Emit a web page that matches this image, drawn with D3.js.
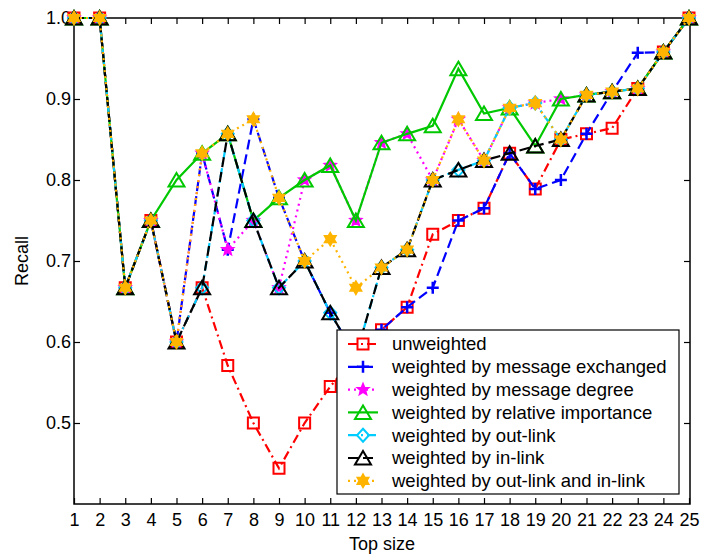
<!DOCTYPE html>
<html>
<head>
<meta charset="utf-8">
<script src="https://cdn.jsdelivr.net/npm/d3@7"></script>
<style>
  html, body { margin: 0; padding: 0; background: #fff; }
  svg { display: block; font-family: "Liberation Sans", Arial, Helvetica, sans-serif; }
</style>
</head>
<body>
<svg id="chart" width="701" height="556"></svg>
<script>
// Recall at each top-size, one array per weighting scheme
const topSizes = d3.range(1, 26);
const unweighted       = [1, 1, 0.667, 0.75, 0.6, 0.667, 0.571, 0.5, 0.444, 0.5, 0.545, 0.583, 0.615, 0.643, 0.733, 0.75, 0.765, 0.833, 0.789, 0.85, 0.857, 0.864, 0.913, 0.958, 1];
const msgExchanged     = [1, 1, 0.667, 0.75, 0.6, 0.833, 0.714, 0.875, 0.778, 0.7, 0.636, 0.583, 0.615, 0.643, 0.667, 0.75, 0.765, 0.833, 0.789, 0.8, 0.857, 0.909, 0.957, 0.958, 1];
const msgDegree        = [1, 1, 0.667, 0.75, 0.6, 0.833, 0.714, 0.75, 0.667, 0.8, 0.818, 0.75, 0.846, 0.857, 0.8, 0.875, 0.824, 0.889, 0.895, 0.9, 0.905, 0.909, 0.913, 0.958, 1];
const relImportance    = [1, 1, 0.667, 0.75, 0.8, 0.833, 0.857, 0.75, 0.778, 0.8, 0.818, 0.75, 0.846, 0.857, 0.867, 0.9375, 0.882, 0.889, 0.842, 0.9, 0.905, 0.909, 0.913, 0.958, 1];
const outLink          = [1, 1, 0.667, 0.75, 0.6, 0.667, 0.857, 0.75, 0.667, 0.7, 0.636, 0.583, 0.692, 0.714, 0.8, 0.8125, 0.824, 0.889, 0.895, 0.85, 0.905, 0.909, 0.913, 0.958, 1];
const inLink           = [1, 1, 0.667, 0.75, 0.6, 0.667, 0.857, 0.75, 0.667, 0.7, 0.636, 0.583, 0.692, 0.714, 0.8, 0.8125, 0.824, 0.833, 0.842, 0.85, 0.905, 0.909, 0.913, 0.958, 1];
const outInLink        = [1, 1, 0.667, 0.75, 0.6, 0.833, 0.857, 0.875, 0.778, 0.7, 0.727, 0.667, 0.692, 0.714, 0.8, 0.875, 0.824, 0.889, 0.895, 0.85, 0.905, 0.909, 0.913, 0.958, 1];

const seriesNames = [
  "unweighted",
  "weighted by message exchanged",
  "weighted by message degree",
  "weighted by relative importance",
  "weighted by out-link",
  "weighted by in-link",
  "weighted by out-link and in-link"
];
const yTickValues = [0.5, 0.6, 0.7, 0.8, 0.9, 1.0];

const seriesValues = [unweighted, msgExchanged, msgDegree, relImportance, outLink, inLink, outInLink];
const styles = [
  { color: "#ff0000", dash: "9,4,2,4", marker: "square" },
  { color: "#0000ff", dash: "10,5",    marker: "plus" },
  { color: "#ff00ff", dash: "2,4",     marker: "pentagram" },
  { color: "#00c800", dash: null,      marker: "triangle" },
  { color: "#00ccff", dash: "9,4,2,4", marker: "diamond" },
  { color: "#000000", dash: "10,5",    marker: "triangle" },
  { color: "#ffb400", dash: "2,4",     marker: "hexagram" }
];

const svg = d3.select("#chart");
const plotLeft = 74, plotRight = 690, plotTop = 18, plotBottom = 504;
const fontSize = "18px";

const x = d3.scaleLinear().domain([1, 25]).range([plotLeft, 689]);
const y = d3.scaleLinear().domain([0.4, 1.0]).range([plotBottom, plotTop]);

// Marker path generators, centred on the origin
function starPath(points, rOuter, rInner) {
  const p = [];
  for (let i = 0; i < points * 2; i++) {
    const r = i % 2 === 0 ? rOuter : rInner;
    const a = -Math.PI / 2 + i * Math.PI / points;
    p.push([r * Math.cos(a), r * Math.sin(a)]);
  }
  return "M" + p.map(d => d.join(",")).join("L") + "Z";
}
function markerPath(type) {
  switch (type) {
    case "square":   return "M-5.5,-5.5H5.5V5.5H-5.5Z";
    case "plus":     return "M-6,0H6M0,-6V6";
    case "diamond":  return "M0,-6.5L6,0L0,6.5L-6,0Z";
    case "triangle": return "M0,-7L8,6.5H-8Z";
    case "pentagram":return starPath(5, 5.5, 2.4);
    case "hexagram": return starPath(6, 6.2, 3.6);
  }
}
function drawMarker(g, type, color, cx, cy) {
  const filled = type === "pentagram" || type === "hexagram";
  g.append("path")
    .attr("d", markerPath(type))
    .attr("transform", `translate(${cx},${cy})`)
    .attr("fill", filled ? color : "none")
    .attr("stroke", color)
    .attr("stroke-width", type === "plus" ? 2.5 : 2);
}

// Axes box and ticks
const axes = svg.append("g");
axes.append("rect")
  .attr("x", plotLeft).attr("y", plotTop)
  .attr("width", plotRight - plotLeft).attr("height", plotBottom - plotTop)
  .attr("fill", "none").attr("stroke", "#000").attr("stroke-width", 1.5);

const xAxisB = d3.axisBottom(x).tickValues(topSizes).tickSize(-6).tickPadding(9).tickFormat(d3.format("d"));
const xAxisT = d3.axisTop(x).tickValues(topSizes).tickSize(-6).tickFormat("");
const yAxisL = d3.axisLeft(y).tickValues(yTickValues).tickSize(-6).tickPadding(3).tickFormat(d3.format(".1f"));
const yAxisR = d3.axisRight(y).tickValues(yTickValues).tickSize(-6).tickFormat("");

function styleAxis(g) {
  g.select(".domain").remove();
  g.selectAll(".tick line").attr("stroke", "#000").attr("stroke-width", 1.2);
  g.selectAll(".tick text").attr("fill", "#000").style("font-size", fontSize)
    .style("font-family", '"Liberation Sans", Arial, sans-serif');
}
axes.append("g").attr("transform", `translate(0,${plotBottom})`).call(xAxisB).call(styleAxis);
axes.append("g").attr("transform", `translate(0,${plotTop})`).call(xAxisT).call(styleAxis);
axes.append("g").attr("transform", `translate(${plotLeft},0)`).call(yAxisL).call(styleAxis);
axes.append("g").attr("transform", `translate(${plotRight},0)`).call(yAxisR).call(styleAxis);

// Axis titles
svg.append("text")
  .attr("x", (plotLeft + plotRight) / 2).attr("y", 550)
  .attr("text-anchor", "middle").style("font-size", fontSize).text("Top size");
svg.append("text")
  .attr("transform", `translate(28,${(plotTop + plotBottom) / 2}) rotate(-90)`)
  .attr("text-anchor", "middle").style("font-size", fontSize).text("Recall");

// Series lines with markers
const line = d3.line().x((d, i) => x(topSizes[i])).y(d => y(d));
const plot = svg.append("g");
seriesValues.forEach((vals, k) => {
  const st = styles[k];
  const g = plot.append("g");
  g.append("path")
    .attr("d", line(vals))
    .attr("fill", "none")
    .attr("stroke", st.color)
    .attr("stroke-width", 2.2)
    .attr("stroke-dasharray", st.dash);
  vals.forEach((v, i) => drawMarker(g, st.marker, st.color, x(topSizes[i]), y(v)));
});

// Legend
const lg = svg.append("g");
const lgX = 337, lgY = 330, lgW = 342, lgH = 164, rowH = 22.8;
lg.append("rect")
  .attr("x", lgX).attr("y", lgY).attr("width", lgW).attr("height", lgH)
  .attr("fill", "#fff").attr("stroke", "#000").attr("stroke-width", 1.2);
seriesNames.forEach((name, k) => {
  const st = styles[k];
  const cy = lgY + 14 + k * rowH;
  lg.append("line")
    .attr("x1", 348).attr("x2", 378).attr("y1", cy).attr("y2", cy)
    .attr("stroke", st.color).attr("stroke-width", 2.2)
    .attr("stroke-dasharray", st.dash);
  drawMarker(lg, st.marker, st.color, 363, cy);
  lg.append("text")
    .attr("x", 392).attr("y", cy).attr("dy", "0.35em")
    .style("font-size", "18.5px").text(name);
});
</script>
</body>
</html>
